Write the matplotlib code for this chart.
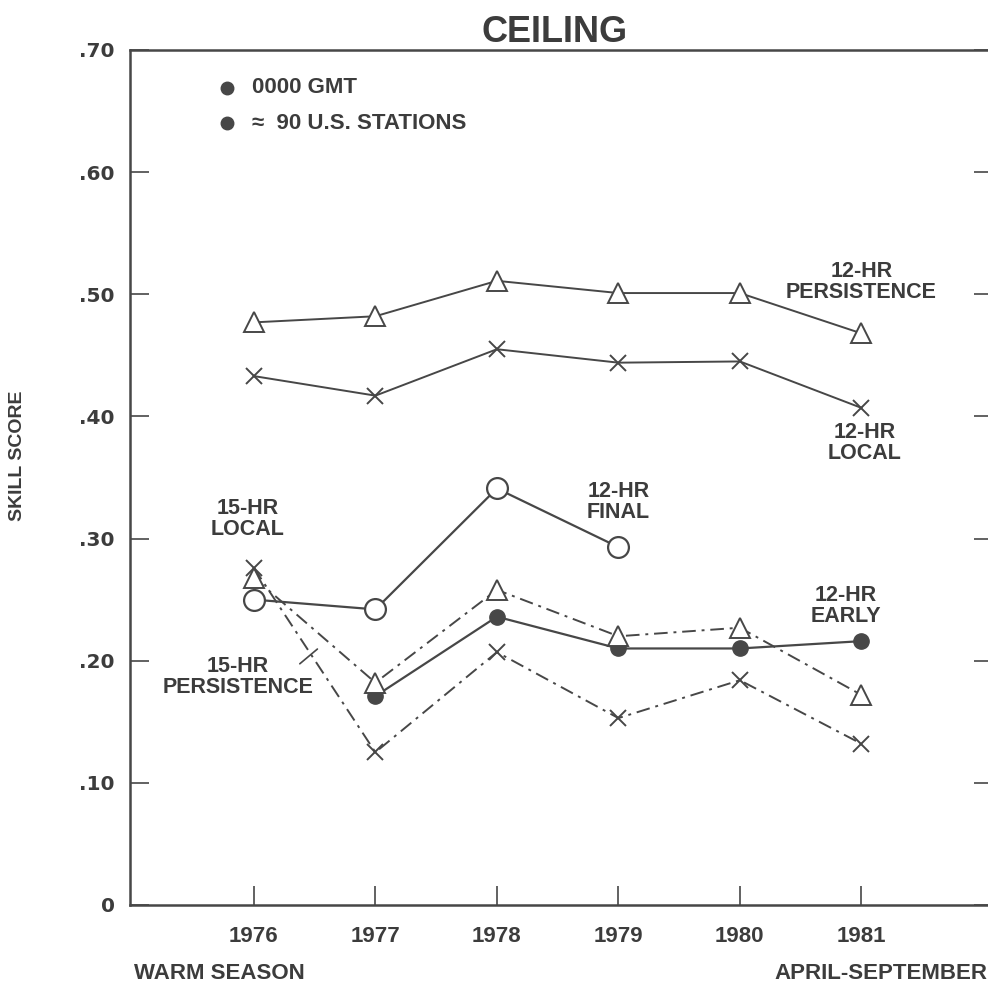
import matplotlib
matplotlib.use("Agg")
import matplotlib.pyplot as plt

plt.rcParams['font.family'] = ['Liberation Sans Narrow', 'Liberation Sans', 'DejaVu Sans']

# data
years = [1976, 1977, 1978, 1979, 1980, 1981]
persist_12 = [0.477, 0.482, 0.511, 0.501, 0.501, 0.468]
local_12 = [0.433, 0.417, 0.455, 0.444, 0.445, 0.407]
final_years = [1976, 1977, 1978, 1979]
final_12 = [0.250, 0.242, 0.341, 0.293]
early_years = [1977, 1978, 1979, 1980, 1981]
early_12 = [0.171, 0.236, 0.210, 0.210, 0.216]
tri_15 = [0.268, 0.182, 0.258, 0.220, 0.227, 0.172]
x_15 = [0.276, 0.125, 0.207, 0.153, 0.184, 0.132]

y_ticks = [0, 0.10, 0.20, 0.30, 0.40, 0.50, 0.60, 0.70]
y_labels = ["0", ".10", ".20", ".30", ".40", ".50", ".60", ".70"]

ink = "#474747"
txt = "#3c3c3c"

fig = plt.figure(figsize=(9.88, 9.90), dpi=100)
ax = fig.add_axes([0.1316, 0.0859, 0.873, 0.8636])
ax.set_xlim(1974.98, 1982.08)
ax.set_ylim(0, 0.70)

dashdot = (0, (7, 3, 1.5, 3))

ax.plot(years, persist_12, color=ink, lw=1.4, marker='^', ms=14, mfc='white', mec=ink, mew=1.4)
ax.plot(years, local_12, color=ink, lw=1.4, marker='x', ms=11, mec=ink, mew=1.4)
ax.plot(final_years, final_12, color=ink, lw=1.6, marker='o', ms=15, mfc='white', mec=ink, mew=1.6)
ax.plot(early_years, early_12, color=ink, lw=1.6, marker='o', ms=11, mfc=ink, mec=ink)
ax.plot(years, tri_15, color=ink, lw=1.4, ls=dashdot, marker='^', ms=14, mfc='white', mec=ink, mew=1.4)
ax.plot(years, x_15, color=ink, lw=1.4, ls=dashdot, marker='x', ms=11, mec=ink, mew=1.4)

# spines / ticks
for s in ax.spines.values():
    s.set_color(ink)
    s.set_linewidth(1.8)
ax.set_yticks(y_ticks)
ax.set_yticklabels(y_labels, fontsize=14.5, fontweight='bold', color=txt, family='DejaVu Sans')
ax.set_xticks(years)
ax.set_xticklabels([str(y) for y in years], fontsize=16, fontweight='bold', color=txt)
ax.tick_params(axis='both', direction='in', length=14, width=1.2, color=ink)
ax.tick_params(axis='y', pad=11, right=True)
ax.tick_params(axis='x', pad=15)

ax.set_title("CEILING", fontsize=26, fontweight='bold', color=txt, pad=6, x=0.492)

lbl = dict(ha='center', va='center', fontsize=15.5, fontweight='bold', color=txt, linespacing=1.0)
ax.text(1981.0, 0.510, "12-HR\nPERSISTENCE", **lbl)
ax.text(1981.03, 0.378, "12-HR\nLOCAL", **lbl)
ax.text(1979.0, 0.330, "12-HR\nFINAL", **lbl)
ax.text(1975.95, 0.316, "15-HR\nLOCAL", **lbl)
ax.text(1975.87, 0.187, "15-HR\nPERSISTENCE", **lbl)
ax.text(1980.87, 0.245, "12-HR\nEARLY", **lbl)
ax.annotate("", xy=(1976.54, 0.211), xytext=(1976.36, 0.196),
            arrowprops=dict(arrowstyle='-', color=ink, lw=1.2))

# legend notes
ax.plot([1975.78, 1975.78], [0.669, 0.640], ls='none', marker='o', ms=9, color=ink)
ax.text(1975.98, 0.669, "0000 GMT", ha='left', va='center', fontsize=16, fontweight='bold', color=txt)
ax.text(1975.98, 0.640, "\u2248  90 U.S. STATIONS", ha='left', va='center', fontsize=16,
        fontweight='bold', color=txt)

fig.text(0.018, 0.54, "SKILL SCORE", rotation=90, ha='center', va='center', fontsize=14,
         fontweight='bold', color=txt)
fig.text(0.136, 0.006, "WARM SEASON", ha='left', va='bottom', fontsize=16, fontweight='bold', color=txt)
fig.text(0.999, 0.006, "APRIL-SEPTEMBER", ha='right', va='bottom', fontsize=16, fontweight='bold', color=txt)

fig.savefig("out.png", dpi=100)
